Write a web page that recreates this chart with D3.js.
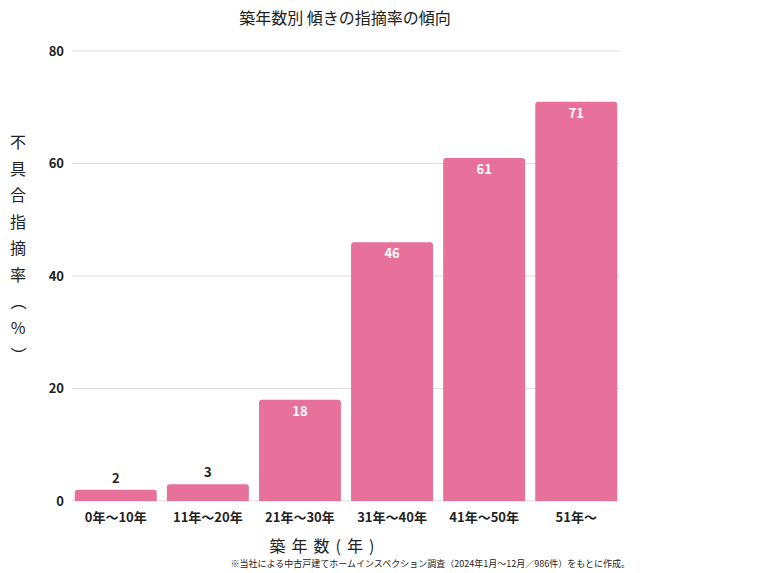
<!DOCTYPE html>
<html><head><meta charset="utf-8">
<script src="https://cdn.jsdelivr.net/npm/d3@7"></script>
<style>body{margin:0;background:#fff;font-family:"Noto Sans CJK JP","Noto Sans",sans-serif;}</style>
</head><body>
<svg id="chart" width="780" height="573"></svg>
<script>
const categories = ["0年～10年", "11年～20年", "21年～30年", "31年～40年", "41年～50年", "51年～"];
const values = [2, 3, 18, 46, 61, 71];
const yTicks = [0, 20, 40, 60, 80];

const svg = d3.select("#chart");
const margin = {left: 72, right: 160, top: 51, bottom: 72};
const W = 780, H = 573;

const x = d3.scaleBand().domain(categories).range([margin.left, W - margin.right]).paddingInner(0.11).paddingOuter(0.03);
const y = d3.scaleLinear().domain([0, 80]).range([H - margin.bottom - 0, margin.top]);

svg.append("g").selectAll("line").data(yTicks).join("line")
  .attr("x1", margin.left).attr("x2", W - margin.right)
  .attr("y1", d => y(d)).attr("y2", d => y(d))
  .attr("stroke", "#dddddd");

svg.append("g").selectAll("text").data(yTicks).join("text")
  .attr("x", 64).attr("y", d => y(d)).attr("dy", "0.35em")
  .attr("text-anchor", "end").attr("font-size", 13).attr("font-weight", "bold")
  .attr("fill", "#222").text(d => d);

const r = 3;
svg.append("g").selectAll("path").data(values).join("path")
  .attr("fill", "#e8719b")
  .attr("d", (d, i) => {
    const x0 = x(categories[i]), w = x.bandwidth(), y0 = y(d), yb = y(0);
    return `M${x0},${yb}V${y0 + r}Q${x0},${y0} ${x0 + r},${y0}H${x0 + w - r}Q${x0 + w},${y0} ${x0 + w},${y0 + r}V${yb}Z`;
  });

svg.append("g").selectAll("text").data(values).join("text")
  .attr("x", (d, i) => x(categories[i]) + x.bandwidth() / 2)
  .attr("y", d => d < 10 ? y(d) - 7 : y(d) + 16)
  .attr("text-anchor", "middle").attr("font-size", 13).attr("font-weight", "bold")
  .attr("fill", d => d < 10 ? "#222" : "#fff").text(d => d);

svg.append("g").selectAll("text").data(categories).join("text")
  .attr("x", d => x(d) + x.bandwidth() / 2).attr("y", 522)
  .attr("text-anchor", "middle").attr("font-size", 13).attr("font-weight", "bold")
  .attr("fill", "#222").text(d => d);

svg.append("text").attr("x", 345).attr("y", 24).attr("text-anchor", "middle")
  .attr("font-size", 16).attr("fill", "#222").text("築年数別 傾きの指摘率の傾向");

const yTitle = ["不", "具", "合", "指", "摘", "率", "（", "%", "）"];
svg.append("g").selectAll("text").data(yTitle).join("text")
  .attr("x", 18).attr("y", (d, i) => 148 + i * 26.5)
  .attr("text-anchor", "middle").attr("font-size", 16).attr("fill", "#222")
  .attr("transform", (d, i) => (d === "（" || d === "）") ? `rotate(90,18,${143 + i * 26.5})` : null)
  .text(d => d);

svg.append("text").attr("x", 325).attr("y", 552).attr("text-anchor", "middle")
  .attr("font-size", 16).attr("fill", "#222").attr("letter-spacing", "6px").text("築年数(年)");

svg.append("text").attr("x", 630).attr("y", 567).attr("text-anchor", "end")
  .attr("font-size", 9).attr("fill", "#222").text("※当社による中古戸建てホームインスペクション調査（2024年1月～12月／986件）をもとに作成。");
</script>
</body></html>
